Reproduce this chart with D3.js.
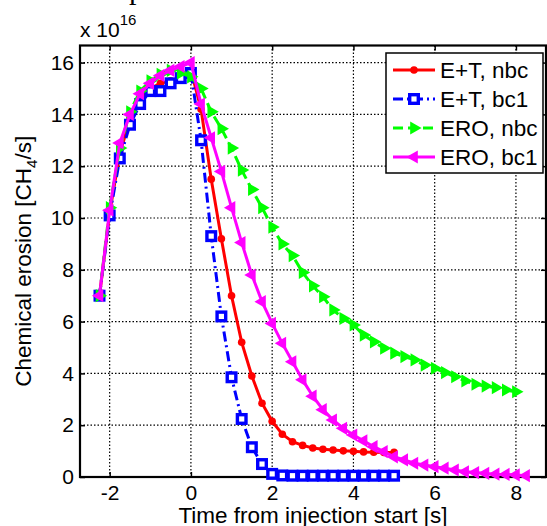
<html>
<head>
<title>Chemical erosion</title>
<script src="https://d3js.org/d3.v7.min.js" charset="utf-8"></script>
<style>
body { margin: 0; background: white; }
text { font-family: "Liberation Sans", Arial, sans-serif; fill: black; }
</style>
</head>
<body>
<script>
// time axis [s], one sample every 0.25 s
var times = [-2.25, -2, -1.75, -1.5, -1.25, -1, -0.75, -0.5, -0.25, 0,
  0.25, 0.5, 0.75, 1, 1.25, 1.5, 1.75, 2, 2.25, 2.5,
  2.75, 3, 3.25, 3.5, 3.75, 4, 4.25, 4.5, 4.75, 5,
  5.25, 5.5, 5.75, 6, 6.25, 6.5, 6.75, 7, 7.25, 7.5,
  7.75, 8, 8.25];

// chemical erosion, units of 1e16 CH4/s
var etNbc = [7.0, 10.2, 12.5, 13.8, 14.6, 15.0, 15.2, 15.3, 15.4, 15.7,
  14.2, 11.5, 9.2, 7.0, 5.2, 3.9, 2.85, 2.15, 1.65, 1.36,
  1.22, 1.12, 1.07, 1.04, 1.01, 0.99, 0.97, 0.96, 0.95, 0.95];
var etBc1 = [7.0, 10.1, 12.3, 13.6, 14.4, 14.9, 14.9, 15.2, 15.4, 15.6,
  13.0, 9.3, 6.2, 3.85, 2.24, 1.15, 0.5, 0.12, 0.06, 0.05,
  0.05, 0.05, 0.05, 0.05, 0.05, 0.05, 0.05, 0.05, 0.05, 0.05];
var eroNbc = [7.0, 10.4, 12.7, 14.1, 14.9, 15.3, 15.55, 15.7, 15.6, 15.45,
  15.0, 14.1, 13.45, 12.7, 11.85, 11.1, 10.4, 9.65, 9.0, 8.55,
  7.9, 7.38, 6.96, 6.45, 6.12, 5.87, 5.48, 5.22, 4.97, 4.78,
  4.65, 4.52, 4.32, 4.2, 4.03, 3.87, 3.71, 3.58, 3.51, 3.45,
  3.36, 3.29];
var eroBc1 = [7.0, 10.3, 12.9, 14.0, 14.8, 15.2, 15.5, 15.7, 15.85, 16.0,
  14.4, 13.1, 11.8, 10.4, 9.05, 7.8, 6.77, 5.93, 5.16, 4.45,
  3.75, 3.12, 2.6, 2.2, 1.88, 1.62, 1.4, 1.17, 0.98, 0.78,
  0.66, 0.53, 0.46, 0.4, 0.34, 0.27, 0.2, 0.17, 0.14, 0.11,
  0.1, 0.08, 0.05];

var seriesNames = ["E+T, nbc", "E+T, bc1", "ERO, nbc", "ERO, bc1"];
var xTicks = [-2, 0, 2, 4, 6, 8];
var yTicks = [0, 2, 4, 6, 8, 10, 12, 14, 16];

var W = 547, H = 526;
var axL = 80, axR = 546, axT = 45.5, axB = 477;

var x = d3.scaleLinear().domain([-2.73, 8.74]).range([axL, axR]);
var y = d3.scaleLinear().domain([0, 16.66]).range([axB, axT]);

var svg = d3.select("body").append("svg")
  .attr("width", W).attr("height", H);

// cut-off title glyph at the very top
svg.append("text").attr("x", 129).attr("y", -1.5)
  .style("font-family", "'Liberation Serif', serif").style("font-size", "30px")
  .text("p");

// grid
var grid = svg.append("g");
grid.selectAll("line.gx").data(xTicks).enter().append("line")
  .attr("x1", d => x(d)).attr("x2", d => x(d))
  .attr("y1", axT).attr("y2", axB)
  .attr("stroke", "black").attr("stroke-width", 1.2).attr("stroke-dasharray", "1.5,2");
grid.selectAll("line.gy").data(yTicks.slice(1)).enter().append("line")
  .attr("y1", d => y(d)).attr("y2", d => y(d))
  .attr("x1", axL).attr("x2", axR)
  .attr("stroke", "black").attr("stroke-width", 1.2).attr("stroke-dasharray", "1.5,2");

// axes, ticks inside on all sides
var fmt = d => String(d);
var xb = svg.append("g").attr("transform", "translate(0," + axB + ")")
  .call(d3.axisBottom(x).tickValues(xTicks).tickSize(-5).tickPadding(8).tickFormat(fmt));
var xt = svg.append("g").attr("transform", "translate(0," + axT + ")")
  .call(d3.axisTop(x).tickValues(xTicks).tickSize(-5).tickFormat(""));
var yl = svg.append("g").attr("transform", "translate(" + axL + ",0)")
  .call(d3.axisLeft(y).tickValues(yTicks).tickSize(-5).tickPadding(6).tickFormat(fmt));
var yr = svg.append("g").attr("transform", "translate(" + axR + ",0)")
  .call(d3.axisRight(y).tickValues(yTicks).tickSize(-5).tickFormat(""));
[xb, xt, yl, yr].forEach(function(a) {
  a.select(".domain").remove();
  a.selectAll(".tick line").attr("stroke", "black").attr("stroke-width", 1.5);
  a.selectAll("text").style("font-family", "'Liberation Sans', Arial, sans-serif")
    .style("font-size", "21px").attr("fill", "black");
});
xb.selectAll("text").attr("dy", "0.71em");

svg.append("rect").attr("x", axL).attr("y", axT)
  .attr("width", axR - axL).attr("height", axB - axT)
  .attr("fill", "none").attr("stroke", "black").attr("stroke-width", 2.2);

// series
function pts(vals) { return vals.map((v, i) => [times[i], v]); }
var line = d3.line().x(d => x(d[0])).y(d => y(d[1]));

var series = [
  { vals: etNbc, color: "#ff0000", dash: null, marker: "circle" },
  { vals: etBc1, color: "#0000ff", dash: "10,4,2,4", marker: "square" },
  { vals: eroNbc, color: "#00ff00", dash: "10,5", marker: "right" },
  { vals: eroBc1, color: "#ff00ff", dash: null, marker: "left" }
];

var triPath = d3.symbol().type(d3.symbolTriangle).size(75)();

function drawMarker(g, kind, color) {
  if (kind === "circle") {
    g.append("circle").attr("r", 3.8).attr("fill", color);
  } else if (kind === "square") {
    g.append("rect").attr("x", -4.3).attr("y", -4.3).attr("width", 8.6).attr("height", 8.6)
      .attr("fill", "white").attr("stroke", color).attr("stroke-width", 3.4);
  } else {
    g.append("path").attr("d", triPath).attr("fill", color)
      .attr("transform", "rotate(" + (kind === "right" ? 90 : -90) + ")");
  }
}

series.forEach(function(s) {
  var p = pts(s.vals);
  svg.append("path").datum(p).attr("d", line)
    .attr("fill", "none").attr("stroke", s.color).attr("stroke-width", 3)
    .attr("stroke-dasharray", s.dash);
  svg.append("g").selectAll("g").data(p).enter().append("g")
    .attr("transform", d => "translate(" + x(d[0]) + "," + y(d[1]) + ")")
    .each(function() { drawMarker(d3.select(this), s.marker, s.color); });
});

// axis labels
svg.append("text").attr("x", (axL + axR) / 2).attr("y", 523)
  .attr("text-anchor", "middle").style("font-size", "22.5px")
  .text("Time from injection start [s]");

var ylab = svg.append("text").attr("transform", "translate(31," + ((axT + axB) / 2) + ") rotate(-90)")
  .attr("text-anchor", "middle").style("font-size", "22.5px");
ylab.append("tspan").text("Chemical erosion [CH");
ylab.append("tspan").attr("dy", 6).style("font-size", "15px").text("4");
ylab.append("tspan").attr("dy", -6).text("/s]");

var expo = svg.append("text").attr("x", 80).attr("y", 37).style("font-size", "21px");
expo.append("tspan").text("x 10");
expo.append("tspan").attr("dy", -12).style("font-size", "15px").text("16");

// legend
var leg = svg.append("g");
leg.append("rect").attr("x", 386).attr("y", 53).attr("width", 157).attr("height", 120)
  .attr("fill", "white").attr("stroke", "black").attr("stroke-width", 1.5);
var rowY = [70, 99, 128, 157];
series.forEach(function(s, i) {
  leg.append("line").attr("x1", 393).attr("x2", 435).attr("y1", rowY[i]).attr("y2", rowY[i])
    .attr("stroke", s.color).attr("stroke-width", 3).attr("stroke-dasharray", s.dash);
  drawMarker(leg.append("g").attr("transform", "translate(414," + rowY[i] + ")"), s.marker, s.color);
  leg.append("text").attr("x", 440).attr("y", rowY[i]).attr("dy", "0.36em")
    .style("font-size", "22.5px").text(seriesNames[i]);
});
</script>
</body>
</html>
